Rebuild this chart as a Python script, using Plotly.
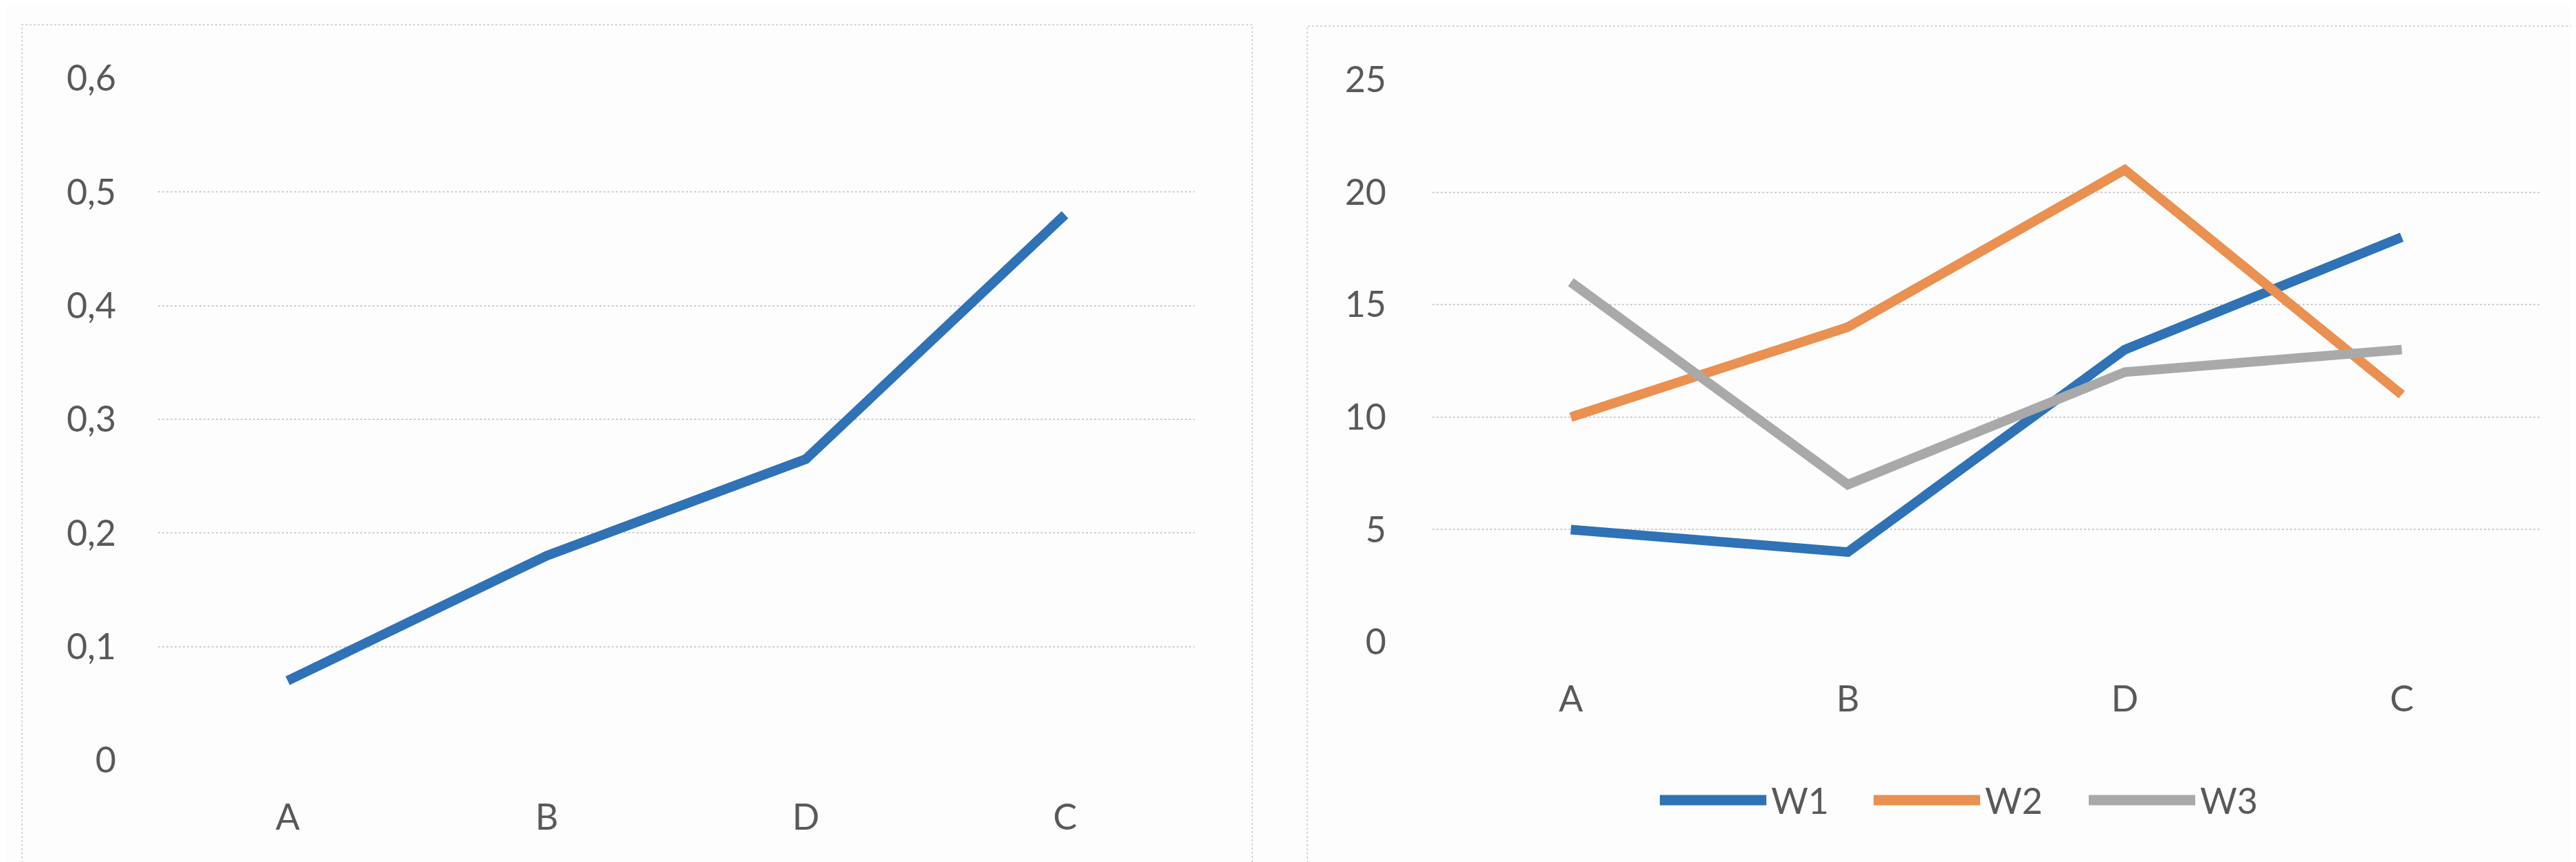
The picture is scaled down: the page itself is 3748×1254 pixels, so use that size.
import plotly.graph_objects as go

categories = ["A", "B", "D", "C"]
left_values = [0.07, 0.18, 0.265, 0.48]
w1 = [5, 4, 13, 18]
w2 = [10, 14, 21, 11]
w3 = [16, 7, 12, 13]
series_names = ["W1", "W2", "W3"]
colors = ["#2F72B6", "#EA9050", "#A9A9A9"]

W, H = 3748, 1254
FONT = "Lato"
TXT = "#595959"

def px(x):
    return x / W

def py(y):
    return 1 - y / H

fig = go.Figure()
fig.add_trace(go.Scatter(x=categories, y=left_values, mode="lines",
                         line=dict(color=colors[0], width=14),
                         xaxis="x", yaxis="y", showlegend=False))
for name, vals, col in zip(series_names, [w1, w2, w3], colors):
    fig.add_trace(go.Scatter(x=categories, y=vals, mode="lines", name=name,
                             line=dict(color=col, width=14),
                             xaxis="x2", yaxis="y2", showlegend=False))

grid = dict(showgrid=True, gridcolor="#CFCFCF", gridwidth=2, griddash="dot",
            zeroline=False, showline=False, ticks="", automargin=False,
            tickfont=dict(family=FONT, size=52, color=TXT))
xcommon = dict(type="category", range=[-0.5, 3.5], showgrid=False, zeroline=False,
               showline=False, ticks="", automargin=False,
               tickfont=dict(family=FONT, size=52, color=TXT),
               ticklabelstandoff=48)

fig.update_layout(
    width=W, height=H,
    autosize=False,
    showlegend=False,
    margin=dict(l=0, r=0, t=0, b=0, pad=0, autoexpand=False),
    paper_bgcolor="#FDFDFD", plot_bgcolor="rgba(0,0,0,0)",
    separators=",.",
    xaxis=dict(domain=[px(222), px(1730)], anchor="y", **xcommon),
    yaxis=dict(domain=[py(1098), py(106)], anchor="x", range=[0, 0.6], dtick=0.1,
               ticklabelstandoff=60, **grid),
    xaxis2=dict(domain=[px(2076), px(3688)], anchor="y2", **xcommon),
    yaxis2=dict(domain=[py(926), py(108)], anchor="x2", range=[0, 25], dtick=5,
                ticklabelstandoff=66, **grid),
)

# chart-area borders
border = dict(color="#D6D6D6", width=2, dash="dot")
fig.add_shape(type="rect", xref="paper", yref="paper",
              x0=px(24), x1=px(1814), y0=py(1262), y1=py(28), line=border)
fig.add_shape(type="rect", xref="paper", yref="paper",
              x0=px(1894), x1=px(3740), y0=py(1262), y1=py(30), line=border)

# custom legend (long line samples like the reference)
leg_y = py(1156)
line_starts = [2407, 2718, 3031]
for name, col, x0 in zip(series_names, colors, line_starts):
    fig.add_shape(type="line", xref="paper", yref="paper",
                  x0=px(x0), x1=px(x0 + 155), y0=leg_y, y1=leg_y,
                  line=dict(color=col, width=15))
    fig.add_annotation(xref="paper", yref="paper", x=px(x0 + 160), y=leg_y,
                       text=name, showarrow=False, xanchor="left", yanchor="middle",
                       font=dict(family=FONT, size=52, color=TXT))

fig.write_html("out.html")
